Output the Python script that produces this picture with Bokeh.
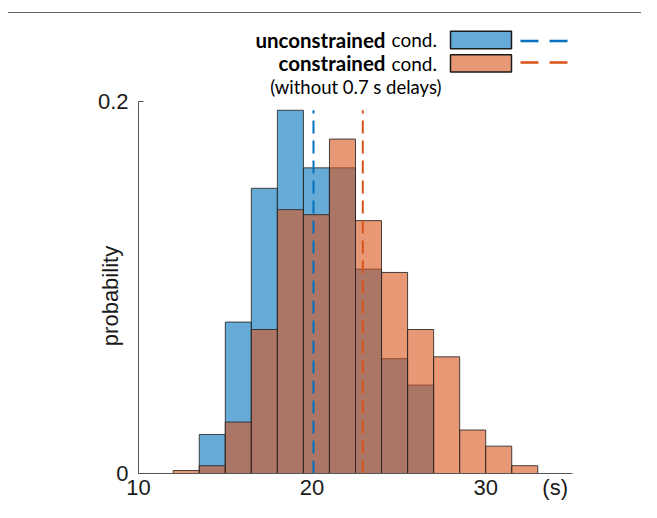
from bokeh.plotting import figure
from bokeh.models import Range1d, FixedTicker
from bokeh.core.properties import value
from bokeh.embed import file_html
from bokeh.resources import INLINE

# ---------------- data ----------------
bin_edges = [12.0, 13.5, 15.0, 16.5, 18.0, 19.5, 21.0, 22.5, 24.0, 25.5, 27.0, 28.5, 30.0, 31.5, 33.0]
unconstrained_prob = [0.0, 0.0210, 0.0815, 0.1535, 0.1955, 0.1645, 0.1645, 0.1100, 0.0618, 0.0476, 0.0, 0.0, 0.0, 0.0]
constrained_prob = [0.0016, 0.0042, 0.0277, 0.0775, 0.1420, 0.1393, 0.1800, 0.1361, 0.1082, 0.0775, 0.0628, 0.0234, 0.0147, 0.0042]
unconstrained_mean = 20.08
constrained_mean = 22.92

x_ticks = [10, 20, 30]
x_unit_tick = 34
x_unit_label = "(s)"
y_ticks = [0, 0.2]
y_tick_labels = ["0", "0.2"]
y_label = "probability"
legend_bold = ["unconstrained", "constrained"]
legend_rest = "cond."
legend_note = "(without 0.7 s delays)"

# ---------------- styling / layout (canvas pixels) ----------------
BLUE = "#0072BD"
ORANGE = "#D95319"
FACE_ALPHA = 0.6
EDGE = "#262626"
AXIS = "#555555"
TXT = "#1a1a1a"
BOX = "#666666"

W, H = 641, 502
ML, MR, MT, MB = 138, 69, 8, 26
frame_w = W - ML - MR
frame_h = H - MT - MB
frame_bottom = MT + frame_h
X0, X1 = 10, 35
TOP_TICK_PX = 102
y_end = 0.2 * frame_h / (frame_bottom - TOP_TICK_PX)


def dx(cx):
    """canvas x pixel -> data x"""
    return X0 + (cx - ML) * (X1 - X0) / frame_w


def dy(cy):
    """canvas y pixel (from top) -> data y"""
    return (frame_bottom - cy) * y_end / frame_h


p = figure(width=W, height=H, x_range=Range1d(X0, X1), y_range=Range1d(0, y_end),
           output_backend="svg", toolbar_location=None,
           min_border_left=ML, min_border_right=MR, min_border_top=MT, min_border_bottom=MB)
p.grid.visible = False
p.outline_line_color = None
p.background_fill_alpha = 0
p.border_fill_alpha = 0
# top edge of the outer figure box
p.styles = {"background": f"linear-gradient({BOX}, {BOX}) 8px 12px / 100% 1px no-repeat, #ffffff"}


def bars(probs, color):
    lefts, rights, tops = [], [], []
    for i, v in enumerate(probs):
        if v > 0:
            lefts.append(bin_edges[i])
            rights.append(bin_edges[i + 1])
            tops.append(v)
    p.quad(left=lefts, right=rights, top=tops, bottom=0,
           fill_color=color, fill_alpha=FACE_ALPHA,
           line_color=EDGE, line_alpha=0.85, line_width=1)


bars(unconstrained_prob, BLUE)
bars(constrained_prob, ORANGE)

top_line = max(max(unconstrained_prob), max(constrained_prob))
p.segment(x0=[unconstrained_mean], y0=[0], x1=[unconstrained_mean], y1=[top_line],
          line_color=BLUE, line_width=2, line_dash="13 7")
p.segment(x0=[constrained_mean], y0=[0], x1=[constrained_mean], y1=[top_line],
          line_color=ORANGE, line_width=2, line_dash="13 7")

# ---------------- legend ----------------
sw_l, sw_r = 450, 511
rows = [(31, 48.5), (54.5, 72)]
for (t, b), col in zip(rows, [BLUE, ORANGE]):
    p.quad(left=[dx(sw_l)], right=[dx(sw_r)], top=[dy(t)], bottom=[dy(b)],
           fill_color=col, fill_alpha=FACE_ALPHA, line_color="#1a1a1a", line_width=1.5)
dash_y = [40.7, 62.3]
for yy, col in zip(dash_y, [BLUE, ORANGE]):
    p.segment(x0=[dx(520)], y0=[dy(yy)], x1=[dx(568)], y1=[dy(yy)],
              line_color=col, line_width=2.5, line_dash="18 11")

LFONT = value("Lato")
row_c = [39.5, 63.0]
p.text(x=[dx(385)] * 2, y=[dy(c) for c in row_c], text=legend_bold,
       text_font=LFONT, text_font_size="20.5px", text_font_style="bold",
       text_align="right", text_baseline="middle", text_color="black")
p.text(x=[dx(391)] * 2, y=[dy(c) for c in row_c], text=[legend_rest] * 2,
       text_font=LFONT, text_font_size="19px",
       text_align="left", text_baseline="middle", text_color="black")
p.text(x=[dx(441)], y=[dy(87.5)], text=[legend_note],
       text_font=LFONT, text_font_size="18.5px",
       text_align="right", text_baseline="middle", text_color="black")

# ---------------- axes ----------------
xa = p.xaxis[0]
xa.ticker = FixedTicker(ticks=x_ticks + [x_unit_tick])
xa.major_label_overrides = {x_unit_tick: x_unit_label}
xa.major_tick_in = 0
xa.major_tick_out = 0
xa.minor_tick_line_color = None
xa.axis_line_color = AXIS
xa.major_label_standoff = 1
xa.major_label_text_font = "Liberation Sans"
xa.major_label_text_font_size = "22px"
xa.major_label_text_color = TXT

ya = p.yaxis[0]
ya.ticker = FixedTicker(ticks=y_ticks)
ya.major_label_overrides = {t: s for t, s in zip(y_ticks, y_tick_labels)}
ya.bounds = (0, 0.2)
ya.major_tick_in = 5
ya.major_tick_out = 0
ya.major_tick_line_color = AXIS
ya.minor_tick_line_color = None
ya.axis_line_color = AXIS
ya.major_label_standoff = 10
ya.major_label_text_font = "Liberation Sans"
ya.major_label_text_font_size = "22px"
ya.major_label_text_color = TXT
# the axis title is centred on the whole frame; trailing no-break spaces move the
# visible word down so that it sits centred on the 0..0.2 axis line
ya.axis_label = y_label + "\u00a0" * 18
ya.axis_label_text_font = "Liberation Sans"
ya.axis_label_text_font_size = "22px"
ya.axis_label_text_font_style = "normal"
ya.axis_label_text_color = TXT
ya.axis_label_standoff = -28

open("out.html", "w").write(file_html(p, INLINE))
